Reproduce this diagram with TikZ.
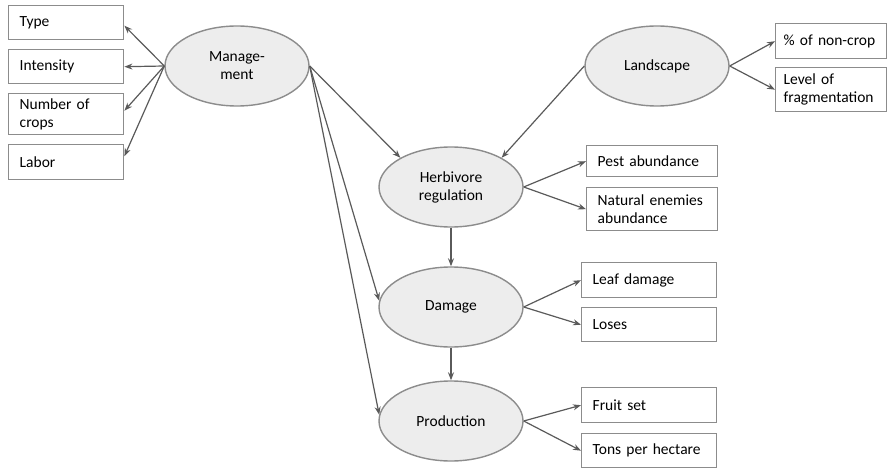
\documentclass[tikz,border=0pt]{standalone}
\usepackage{fontspec}
\setmainfont{Carlito}
\usetikzlibrary{arrows.meta,shapes.geometric}
\definecolor{edgegray}{HTML}{8C8C8C}
\definecolor{fillgray}{HTML}{EDEDED}
\definecolor{linegray}{HTML}{5A5A5A}
\begin{document}
\begin{tikzpicture}[x=1pt,y=-1pt,
  latent/.style={ellipse, draw=edgegray, fill=fillgray, line width=1.4pt,
    minimum width=144pt, minimum height=80pt, inner sep=0pt, align=center,
    font=\fontsize{15.5}{18}\selectfont},
  obs/.style={rectangle, draw=edgegray, line width=1.4pt, inner xsep=11pt,
    inner ysep=0pt, align=left, anchor=north west,
    font=\fontsize{15.5}{18.5}\selectfont},
  link/.style={draw=linegray, line width=1.2pt, -{Stealth[length=8pt,width=6pt]}}]
\useasboundingbox (0,0) rectangle (889,468);

% latent constructs
\node[latent] (mgmt) at (237,66) {Manage-\\ment};
\node[latent] (land) at (657,66) {Landscape};
\node[latent] (herb) at (451,187) {Herbivore\\regulation};
\node[latent] (dmg)  at (451,307) {Damage};
\node[latent] (prod) at (451,421) {Production};

% management indicators
\node[obs, text width=93pt, minimum height=34pt] (type)  at (8,5)   {Type};
\node[obs, text width=93pt, minimum height=34pt] (inten) at (8,49)  {Intensity};
\node[obs, text width=93pt, minimum height=41pt] (ncrop) at (8,93)  {Number of\\crops};
\node[obs, text width=93pt, minimum height=35pt] (labor) at (8,144) {Labor};

% landscape indicators
\node[obs, inner xsep=8pt, text width=95pt, minimum height=35pt] (noncrop) at (775,23) {\mbox{\% of non-crop}};
\node[obs, inner xsep=8pt, text width=95pt, minimum height=44pt] (frag)    at (775,67) {Level of\\fragmentation};

% herbivore regulation indicators
\node[obs, text width=109pt, minimum height=31pt] (pest) at (586,145) {Pest abundance};
\node[obs, text width=109pt, minimum height=43pt] (enem) at (586,187) {Natural enemies\\abundance};

% damage indicators
\node[obs, text width=113pt, minimum height=35pt] (leaf)  at (581,262) {Leaf damage};
\node[obs, text width=113pt, minimum height=34pt] (loses) at (581,307) {Loses};

% production indicators
\node[obs, text width=113pt, minimum height=35pt] (fruit) at (581,387) {Fruit set};
\node[obs, text width=113pt, minimum height=34pt] (tons)  at (581,433) {Tons per hectare};

% measurement arrows
\draw[link] (mgmt.west) -- ([yshift=-3pt]type.east);
\draw[link] (mgmt.west) -- (inten.east);
\draw[link] (mgmt.west) -- ([yshift=3.5pt]ncrop.east);
\draw[link] (mgmt.west) -- ([yshift=6pt]labor.east);
\draw[link] (land.east) -- (noncrop.west);
\draw[link] (land.east) -- (frag.west);
\draw[link] (herb.east) -- (pest.west);
\draw[link] (herb.east) -- (enem.west);
\draw[link] (dmg.east) -- (leaf.west);
\draw[link] (dmg.east) -- (loses.west);
\draw[link] (prod.east) -- (fruit.west);
\draw[link] (prod.east) -- (tons.west);

% structural paths
\draw[link] (mgmt.east) -- (herb.150);
\draw[link] (mgmt.east) -- (dmg.175);
\draw[link] (mgmt.east) -- (prod.175);
\draw[link] (land.west) -- (herb.30);
\draw[link] (herb.south) -- (dmg.north);
\draw[link] (dmg.south) -- (prod.north);
\end{tikzpicture}
\end{document}
